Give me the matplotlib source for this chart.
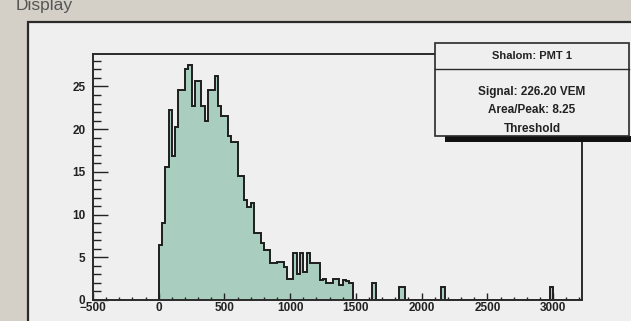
import numpy as np
import matplotlib
matplotlib.use("Agg")
import matplotlib.pyplot as plt
from matplotlib.patches import Rectangle
from matplotlib.ticker import MultipleLocator

# histogram values, bins of 25 starting at 0
bin_width = 25
main_counts = [6.4, 9.0, 15.6, 22.3, 16.8, 20.3, 24.6, 24.6, 27.0, 27.5,
               22.7, 25.6, 25.6, 22.7, 21.0, 24.6, 24.6, 26.2, 22.7, 21.5,
               21.5, 19.2, 18.5, 18.5, 14.5, 14.5, 11.7, 10.9, 11.3, 7.8,
               7.8, 6.7, 5.9, 5.9, 4.3, 4.3, 4.5, 4.5, 3.9, 2.5,
               2.5, 5.5, 3.1, 5.5, 3.3, 5.5, 4.3, 4.3, 4.3, 2.3,
               2.5, 2.0, 2.0, 2.5, 2.5, 1.8, 2.4, 2.2, 2.0]
spike_left = [1625, 1825, 1850, 2150, 2975]
spike_height = [2.0, 1.5, 1.5, 1.5, 1.5]

title = "Shalom: PMT 1"
stats_lines = ["Signal: 226.20 VEM", "Area/Peak: 8.25", "Threshold"]

W, H = 631, 321
fig = plt.figure(figsize=(W / 100, H / 100), dpi=100)
fig.patch.set_facecolor("#d4d0c8")

def fx(px):
    return px / W

def fy(py):
    return 1 - py / H

# canvas pad (behind the axes)
fig.patches.append(Rectangle((fx(28), -0.1), 1.2, fy(22) + 0.1, transform=fig.transFigure,
                             facecolor="#efefef", edgecolor="#2a2a2a", linewidth=1.6, zorder=-5))
fig.text(fx(16), fy(10), "Display", fontsize=12.5, color="#555555", va="baseline", ha="left",
         family="Liberation Sans")

# build full count array
edges = np.arange(0, 3200 + bin_width, bin_width)
counts = np.zeros(len(edges) - 1)
counts[:len(main_counts)] = main_counts
for left, h in zip(spike_left, spike_height):
    counts[left // bin_width] = h

ax = fig.add_axes([fx(93), fy(300), fx(582) - fx(93), fy(54) - fy(300)])
ax.set_facecolor("#efefef")
ax.stairs(counts, edges, fill=True, color="#a9cebf", zorder=1)
ax.stairs(counts, edges, color="#1e1e1e", linewidth=1.4, zorder=2)

ax.set_xlim(-500, 3220)
ax.set_ylim(0, 28.8)
ax.xaxis.set_major_locator(MultipleLocator(500))
ax.xaxis.set_minor_locator(MultipleLocator(100))
ax.yaxis.set_major_locator(MultipleLocator(5))
ax.yaxis.set_minor_locator(MultipleLocator(1))
ax.tick_params(axis="both", which="both", direction="in", colors="#222222", width=1.0,
               top=False, right=False)
ax.tick_params(axis="x", which="major", length=5, pad=1.5)
ax.tick_params(axis="x", which="minor", length=2.5)
ax.tick_params(axis="y", which="major", length=11, pad=5.5)
ax.tick_params(axis="y", which="minor", length=5.5)
for lab in ax.get_xticklabels() + ax.get_yticklabels():
    lab.set_fontfamily("Liberation Sans")
    lab.set_fontweight("bold")
    lab.set_fontsize(8.5)
for s in ax.spines.values():
    s.set_linewidth(1.4)
    s.set_color("#2a2a2a")

# stats box with shadow
fig.patches.append(Rectangle((fx(445), fy(142)), 1.0, fy(136) - fy(142), transform=fig.transFigure,
                             facecolor="#111111", edgecolor="none", zorder=5))
fig.patches.append(Rectangle((fx(435), fy(136)), fx(629) - fx(435), fy(43) - fy(136),
                             transform=fig.transFigure, facecolor="#efefef",
                             edgecolor="#2a2a2a", linewidth=1.2, zorder=6))
fig.lines.append(plt.Line2D([fx(435), fx(629)], [fy(69), fy(69)], transform=fig.transFigure,
                            color="#2a2a2a", linewidth=1.0, zorder=7))
cx = fx(532)
fig.text(cx, fy(56), title, ha="center", va="center", fontsize=8, fontweight="bold",
         family="Liberation Sans", color="#222222", zorder=8)
for i, line in enumerate(stats_lines):
    fig.text(cx, fy(92 + 18.3 * i), line, ha="center", va="center", fontsize=8.5,
             fontweight="bold", family="Liberation Sans", color="#222222", zorder=8)

fig.savefig("out.png", dpi=100, facecolor=fig.get_facecolor())
